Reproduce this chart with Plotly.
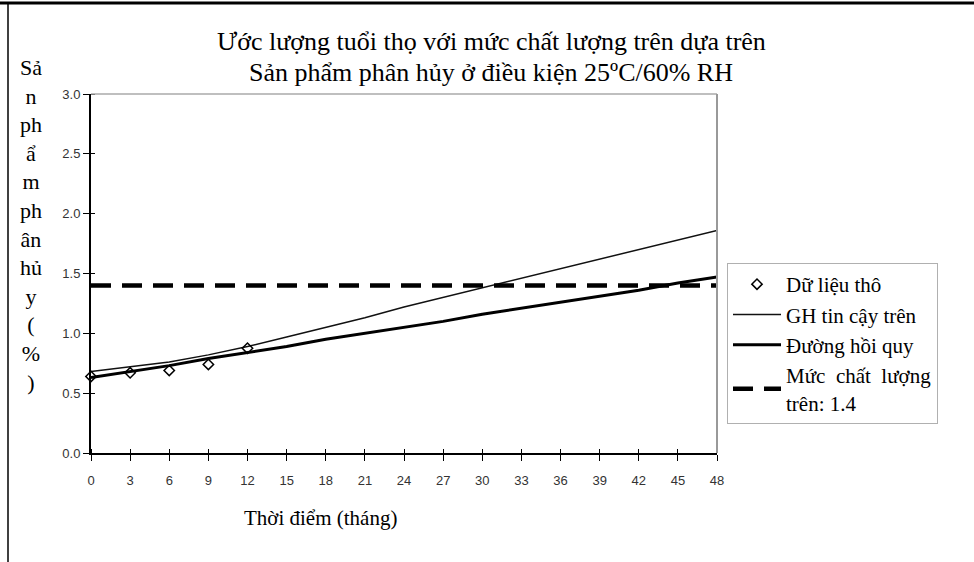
import plotly.graph_objects as go

# ---- data ----
months = [0, 3, 6, 9, 12, 15, 18, 21, 24, 27, 30, 33, 36, 39, 42, 45, 48]
raw_months = [0, 3, 6, 9, 12]
raw_values = [0.64, 0.67, 0.69, 0.74, 0.875]
upper_ci = [0.68, 0.72, 0.76, 0.82, 0.89, 0.97, 1.05, 1.13, 1.22, 1.30, 1.38,
            1.46, 1.54, 1.62, 1.70, 1.78, 1.86]
regression = [0.63, 0.68, 0.73, 0.79, 0.84, 0.89, 0.95, 1.00, 1.05, 1.10, 1.16,
              1.21, 1.26, 1.31, 1.36, 1.42, 1.47]
spec_months = [0, 48]
spec_limit = [1.4, 1.4]
x_ticks = list(range(0, 49, 3))
y_ticks = [0.0, 0.5, 1.0, 1.5, 2.0, 2.5, 3.0]

title_line1 = "Ước lượng tuổi thọ với mức chất lượng trên dựa trên"
title_line2 = "Sản phẩm phân hủy ở điều kiện 25ºC/60% RH"
y_title_parts = ["Sả", "n", "ph", "ẩ", "m", "ph", "ân", "hủ", "y", "(", "%", ")"]
x_title = "Thời điểm (tháng)"

W, H = 974, 562
L, R, T, B = 91, 717, 94, 453


def px(x):
    return (x - L) / (R - L)


def py(y):
    return (B - y) / (B - T)


serif = "Liberation Serif, Times New Roman, serif"
sans = "Liberation Sans, Arial, sans-serif"

fig = go.Figure()
fig.add_trace(go.Scatter(x=months, y=upper_ci, mode="lines", name="GH tin cậy trên",
                         line=dict(color="#111", width=1.5), legendrank=2))
fig.add_trace(go.Scatter(x=months, y=regression, mode="lines", name="Đường hồi quy",
                         line=dict(color="#000", width=3), legendrank=3))
fig.add_trace(go.Scatter(x=spec_months, y=spec_limit, mode="lines",
                         name="Mức  chất  lượng<br>trên: 1.4",
                         line=dict(color="#000", width=4.5, dash="20px,11px"), legendrank=4))
fig.add_trace(go.Scatter(x=raw_months, y=raw_values, mode="markers", name="Dữ liệu thô",
                         marker=dict(symbol="diamond-open", size=8, color="#000",
                                     line=dict(width=1.5)),
                         cliponaxis=False, legendrank=1))

fig.update_layout(
    width=W, height=H,
    margin=dict(l=L, r=W - R, t=T, b=H - B),
    paper_bgcolor="white", plot_bgcolor="white",
    showlegend=True,
    legend=dict(x=px(727), y=py(263), xanchor="left", yanchor="top",
                bgcolor="white", bordercolor="#b0b0b0", borderwidth=1,
                font=dict(family=serif, size=21, color="#000"),
                itemwidth=48, tracegroupgap=0),
)

fig.update_xaxes(range=[0, 48], tickvals=x_ticks, ticks="outside", ticklen=6,
                 tickcolor="#000", showline=True, linecolor="#000", linewidth=2,
                 showgrid=False, zeroline=False, ticklabelstandoff=8,
                 minor=dict(tickvals=x_ticks, ticks="inside", ticklen=4,
                            tickcolor="#000", showgrid=False),
                 tickfont=dict(family=sans, size=13, color="#333"))
fig.update_yaxes(range=[0, 3], tickvals=y_ticks, tickformat=".1f", ticks="outside",
                 ticklen=6, tickcolor="#000", showline=True, linecolor="#000",
                 linewidth=2, showgrid=False, zeroline=False,
                 minor=dict(tickvals=y_ticks, ticks="inside", ticklen=4,
                            tickcolor="#000", showgrid=False),
                 tickfont=dict(family=sans, size=13, color="#333"))

# plot area gray top/right border
fig.add_shape(type="line", xref="paper", yref="paper", x0=0, x1=1, y0=1, y1=1,
              line=dict(color="#aaa", width=1.5))
fig.add_shape(type="line", xref="paper", yref="paper", x0=1, x1=1, y0=0, y1=1,
              line=dict(color="#999", width=2))
# outer frame (top and left)
fig.add_shape(type="line", xref="paper", yref="paper", x0=px(0), x1=px(W),
              y0=py(3), y1=py(3), line=dict(color="#000", width=3))
fig.add_shape(type="line", xref="paper", yref="paper", x0=px(8), x1=px(8),
              y0=py(3), y1=py(H), line=dict(color="#000", width=1.5))

# title (two lines)
for txt, yy in ((title_line1, 42), (title_line2, 72)):
    fig.add_annotation(text=txt, xref="paper", yref="paper", x=px(491), y=py(yy),
                       xanchor="center", yanchor="middle", showarrow=False,
                       font=dict(family=serif, size=26, color="#000"))

# y-axis title (stacked)
fig.add_annotation(text="<br>".join(y_title_parts), xref="paper", yref="paper",
                   x=px(31), y=py(225), xanchor="center", yanchor="middle",
                   showarrow=False, align="center",
                   font=dict(family=serif, size=22, color="#000"))
# x-axis title
fig.add_annotation(text=x_title, xref="paper", yref="paper", x=px(320), y=py(518),
                   xanchor="center", yanchor="middle", showarrow=False,
                   font=dict(family=serif, size=21, color="#000"))

fig.write_html("out.html")
